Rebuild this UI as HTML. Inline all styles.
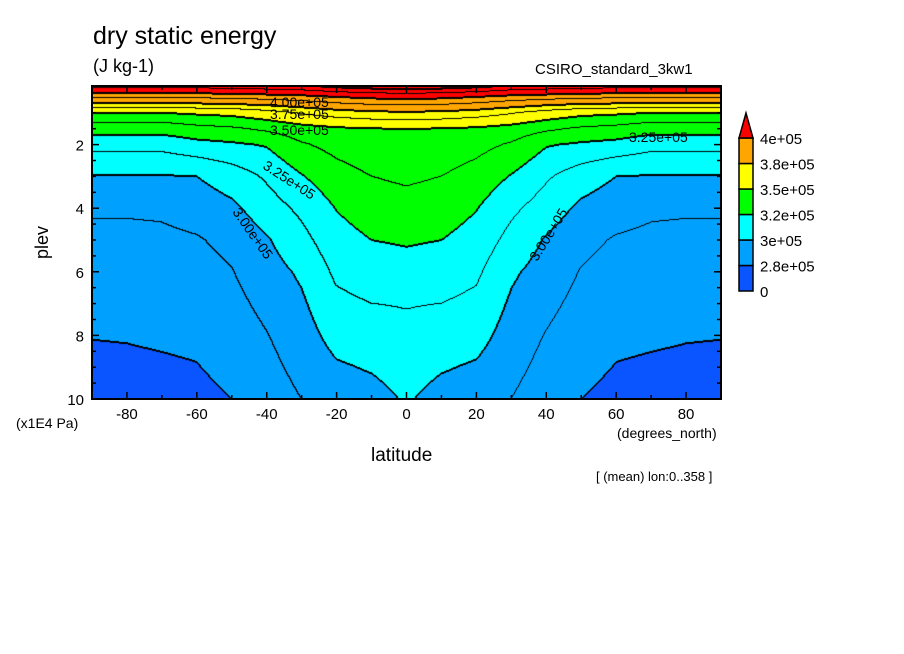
<!DOCTYPE html>
<html><head><meta charset="utf-8">
<style>
body{margin:0;background:#fff;width:904px;height:654px;overflow:hidden;position:relative;font-family:"Liberation Sans",sans-serif;}
.t{position:absolute;white-space:nowrap;color:#000;}
</style></head><body>
<div class="t" style="left:93px;top:22px;font-size:25px;">dry static energy</div>
<div class="t" style="left:93px;top:56px;font-size:18px;">(J kg-1)</div>
<div class="t" style="left:535px;top:61px;font-size:15px;">CSIRO_standard_3kw1</div>
<div class="t" style="left:26px;top:232px;font-size:18px;transform:rotate(-90deg);">plev</div>
<div class="t" style="left:16px;top:415px;font-size:14px;">(x1E4 Pa)</div>
<div class="t" style="left:371px;top:445px;font-size:19px;">latitude</div>
<div class="t" style="left:617px;top:425px;font-size:14px;">(degrees_north)</div>
<div class="t" style="left:596px;top:469px;font-size:13px;">[ (mean) lon:0..358 ]</div>
<canvas id="cv" width="629" height="313" style="position:absolute;left:92px;top:86px;"></canvas>
<svg id="ov" width="904" height="654" style="position:absolute;left:0;top:0;"></svg>
<script>
const lats=[-90,-80,-70,-60,-50,-40,-30,-20,-10,0,10,20,30,40,50,60,70,80,90];
const plevs=[0.2,0.5,1,1.5,2,3,4,5,6,7,8,9,10];
const c0=[430,404,373,350,346.5,339.6,332.9,326.3,320.2,313.2,309.4,305.4,301.3];
const c10=[428,403,372,349.6,345.5,337.5,331.2,325,318.7,312.5,306.8,301.1,295.5];
const c20=[425,400,369,348,341.4,332.6,325.5,320.1,314.9,309.5,304.6,298.5,293.8];
const c30=[420,396,364,345.2,336.3,324.2,315.2,308.7,302,298.2,294.6,291.1,287.5];
const c40=[418,394,358,340,326,314.2,306.7,298.8,294.8,290.7,286.9,283.9,280.9];
const c50=[416,392,353.5,336,323,306.2,297.3,290.7,286.9,283.9,280.9,277.9,275];
const c60=[415,391,352,334,320.8,300,292.5,286.5,283.2,280.1,277,274.6,272];
const c70=[414,390,350,330,316.5,299.2,289.5,285,282,279.2,276.3,273.8,271];
const c80=[413,389,350,330,316.5,299,289,284.5,281.2,278.2,275.6,273.2,270.5];
const c90=[413,389,350,330,316.5,299,289,284.5,281,278,275.3,273,270.5];
const field=[c90,c80,c70,c60,c50,c40,c30,c20,c10,c0,c10,c20,c30,c40,c50,c60,c70,c80,c90];
const bandEdges=[275,300,325,350,375,400];
const bandColors=['#0a55ff','#00a0ff','#00ffff','#00ff00','#ffff00','#ffa500','#ff0000'];
const legendLabels=['0','2.8e+05','3e+05','3.2e+05','3.5e+05','3.8e+05','4e+05'];
const contourStep=12.5;

const X0=92,X1=721,Y0=86,Y1=399,LAT0=-90,LAT1=90,PTOP=10-313/31.8,PBOT=10;
const xs=v=>X0+(v-LAT0)/(LAT1-LAT0)*(X1-X0);
const ys=p=>Y1-(PBOT-p)/(PBOT-PTOP)*(Y1-Y0);

function val(lat,p){
  let i=Math.min(lats.length-2,Math.max(0,Math.floor((lat-lats[0])/(lats[1]-lats[0]))));
  let tx=(lat-lats[i])/(lats[i+1]-lats[i]);
  let j=0; while(j<plevs.length-2&&p>plevs[j+1])j++;
  let ty=(p-plevs[j])/(plevs[j+1]-plevs[j]);
  const a=field[i][j]*(1-ty)+field[i][j+1]*ty;
  const b=field[i+1][j]*(1-ty)+field[i+1][j+1]*ty;
  return a*(1-tx)+b*tx;
}
function hex(c){return [parseInt(c.substr(1,2),16),parseInt(c.substr(3,2),16),parseInt(c.substr(5,2),16)];}
const cv=document.getElementById('cv'),ctx=cv.getContext('2d');
const W=cv.width,H=cv.height,img=ctx.createImageData(W,H);
const S=new Float32Array(W*H);
for(let y=0;y<H;y++)for(let x=0;x<W;x++){
  const lat=LAT0+(x+0.5)/W*(LAT1-LAT0), p=PTOP+(y+0.5)/H*(PBOT-PTOP);
  S[y*W+x]=val(lat,p);
}
const cols=bandColors.map(hex);
const black=new Uint8Array(W*H);
for(let y=0;y<H;y++)for(let x=0;x<W;x++){
  const k=Math.floor(S[y*W+x]/contourStep);
  const nb=[[1,0],[0,1]];
  for(const [dx,dy] of nb){
    const xx=x+dx,yy=y+dy; if(xx>=W||yy>=H)continue;
    const k2=Math.floor(S[yy*W+xx]/contourStep);
    if(k2!==k){
      const lev=Math.max(k,k2)*contourStep;
      black[y*W+x]=1;
      if(Math.abs(lev/25-Math.round(lev/25))<1e-6){black[yy*W+xx]=1;}
    }
  }
}
for(let i=0;i<W*H;i++){
  let b=0; while(b<bandEdges.length&&S[i]>=bandEdges[b])b++;
  const c=black[i]?[0,0,0]:cols[b];
  img.data[i*4]=c[0];img.data[i*4+1]=c[1];img.data[i*4+2]=c[2];img.data[i*4+3]=255;
}
ctx.putImageData(img,0,0);

const ov=document.getElementById('ov'),NS='http://www.w3.org/2000/svg';
function mk(tag,attrs,txt){const e=document.createElementNS(NS,tag);for(const k in attrs)e.setAttribute(k,attrs[k]);if(txt!==undefined)e.textContent=txt;ov.appendChild(e);return e;}
let fr=mk('rect',{x:X0,y:Y0,width:X1-X0,height:Y1-Y0,fill:'none',stroke:'#000','stroke-width':2});


const xTicks=[-80,-60,-40,-20,0,20,40,60,80];
for(let v=-90;v<=90;v+=10){const X=xs(v),L=(v%20===0)?7:4;
  mk('line',{x1:X,x2:X,y1:Y1,y2:Y1-L,stroke:'#000','stroke-width':1.5});
  mk('line',{x1:X,x2:X,y1:Y0,y2:Y0+L,stroke:'#000','stroke-width':1.5});}
for(const v of xTicks){const t=mk('text',{x:xs(v),y:419,'font-size':15,'text-anchor':'middle','font-family':'Liberation Sans'},String(v));
  
  }
const yTicks=[2,4,6,8,10];
for(let p=1;p<=10;p+=0.5){const Y=ys(p),L=(p%2===0)?7:4;
  mk('line',{x1:X0,x2:X0+L,y1:Y,y2:Y,stroke:'#000','stroke-width':1.5});
  mk('line',{x1:X1,x2:X1-L,y1:Y,y2:Y,stroke:'#000','stroke-width':1.5});}
for(const p of yTicks){const t=mk('text',{x:84,y:ys(p)+6,'font-size':15,'text-anchor':'end','font-family':'Liberation Sans'},String(p));
  
  }
const labs=[['4.00e+05',270,107,0],['3.75e+05',270,119,0],['3.50e+05',270,135,0],['3.25e+05',629,142,0],['3.25e+05',262,168,33],['3.00e+05',232,212,55],['3.00e+05',537,262,-58]];
for(const l of labs){const t=mk('text',{x:l[1],y:l[2],'font-size':14,'font-family':'Liberation Sans',transform:`rotate(${l[3]} ${l[1]} ${l[2]})`},l[0]);
  
  }
const CBX=739,CBW=14,CBT=138,CBH=25.5;
const nBox=bandColors.length-1;
for(let i=0;i<nBox;i++){const y=CBT+(nBox-1-i)*CBH;
  const r=mk('rect',{x:CBX,y:y,width:CBW,height:CBH,fill:bandColors[i],stroke:'#000','stroke-width':1.5});
  
  }
const tri=mk('polygon',{points:`${CBX},${CBT} ${CBX+CBW},${CBT} ${CBX+CBW/2},${CBT-25}`,fill:bandColors[nBox],stroke:'#000','stroke-width':1.5});


for(let i=0;i<legendLabels.length;i++){const y=CBT+(nBox-i)*CBH;
  const t=mk('text',{x:760,y:y+6,'font-size':15,'font-family':'Liberation Sans'},legendLabels[i]);
  
  }
</script>
</body></html>
